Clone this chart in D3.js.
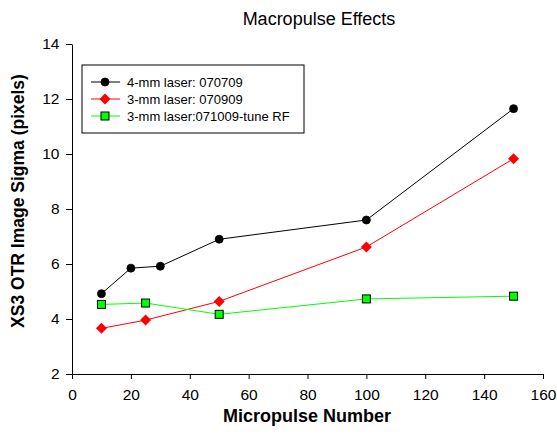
<!DOCTYPE html>
<html>
<head>
<meta charset="utf-8">
<script src="https://cdn.jsdelivr.net/npm/d3@7"></script>
<style>
  html, body { margin: 0; padding: 0; background: #fff; }
  text { font-family: "Liberation Sans", Arial, sans-serif; }
</style>
</head>
<body>
<svg id="chart" width="557" height="435"></svg>
<script>
// data
const black4mmX = [10, 20, 30, 50, 100, 150];
const black4mmY = [4.92, 5.85, 5.92, 6.9, 7.6, 11.65];
const red3mmX = [10, 25, 50, 100, 150];
const red3mmY = [3.66, 3.96, 4.64, 6.62, 9.83];
const green3mmX = [10, 25, 50, 100, 150];
const green3mmY = [4.53, 4.58, 4.17, 4.73, 4.83];
const xTicks = [0, 20, 40, 60, 80, 100, 120, 140, 160];
const yTicks = [2, 4, 6, 8, 10, 12, 14];

const series = [
  { name: "4-mm laser: 070709", xs: black4mmX, ys: black4mmY, line: "#000", marker: "circle", fill: "#000" },
  { name: "3-mm laser: 070909", xs: red3mmX, ys: red3mmY, line: "#ff0000", marker: "diamond", fill: "#ff0000" },
  { name: "3-mm laser:071009-tune RF", xs: green3mmX, ys: green3mmY, line: "#00ff00", marker: "square", fill: "#00ff00" },
];

const svg = d3.select("#chart");
const margin = { left: 72, right: 14, top: 44, bottom: 61 };
const W = 557, H = 435;

const x = d3.scaleLinear().domain([0, 160]).range([margin.left, W - margin.right]);
const y = d3.scaleLinear().domain([2, 14]).range([H - margin.bottom, margin.top]);

// axes
const xAxis = svg.append("g")
  .attr("transform", `translate(0,${y(2)})`)
  .call(d3.axisBottom(x).tickValues(xTicks).tickSize(5).tickSizeOuter(0).tickPadding(9.5));
const yAxis = svg.append("g")
  .attr("transform", `translate(${x(0)},0)`)
  .call(d3.axisLeft(y).tickValues(yTicks).tickSize(6).tickSizeOuter(0).tickPadding(6.5));
[xAxis, yAxis].forEach((a) => {
  a.selectAll("text").attr("font-size", 15.5).attr("fill", "#000")
    .attr("font-family", "Liberation Sans, Arial, sans-serif");
  a.selectAll("line, path").attr("stroke", "#000");
});

// titles
svg.append("text").attr("x", 319).attr("y", 25).attr("text-anchor", "middle")
  .attr("font-size", 18).text("Macropulse Effects");
svg.append("text").attr("x", 307).attr("y", 422).attr("text-anchor", "middle")
  .attr("font-size", 18).attr("font-weight", "bold").text("Micropulse Number");
svg.append("text").attr("transform", "translate(24,201) rotate(-90)")
  .attr("text-anchor", "middle").attr("font-size", 17.5).attr("font-weight", "bold")
  .text("XS3 OTR Image Sigma (pixels)");

function drawMarker(g, type, fill) {
  if (type === "circle") {
    g.append("circle").attr("r", 4).attr("fill", fill).attr("stroke", "#000").attr("stroke-width", 0.8);
  } else if (type === "diamond") {
    g.append("path").attr("d", "M0,-5.5L5.5,0L0,5.5L-5.5,0Z").attr("fill", fill);
  } else {
    g.append("rect").attr("x", -4).attr("y", -4).attr("width", 8).attr("height", 8)
      .attr("fill", fill).attr("stroke", "#000").attr("stroke-width", 1);
  }
}

const line = d3.line().x((d) => x(d[0])).y((d) => y(d[1]));

series.forEach((s) => {
  const pts = s.xs.map((v, i) => [v, s.ys[i]]);
  svg.append("path").datum(pts).attr("d", line)
    .attr("fill", "none").attr("stroke", s.line).attr("stroke-width", 1);
  pts.forEach((p) => {
    const g = svg.append("g").attr("transform", `translate(${x(p[0])},${y(p[1])})`);
    drawMarker(g, s.marker, s.fill);
  });
});

// legend
const leg = svg.append("g");
leg.append("rect").attr("x", 82).attr("y", 65).attr("width", 222).attr("height", 68)
  .attr("fill", "#fff").attr("stroke", "#000").attr("stroke-width", 1);
series.forEach((s, i) => {
  const ly = 82 + i * 17;
  leg.append("line").attr("x1", 91).attr("x2", 120).attr("y1", ly).attr("y2", ly)
    .attr("stroke", s.line).attr("stroke-width", 1);
  const g = leg.append("g").attr("transform", `translate(105,${ly})`);
  drawMarker(g, s.marker, s.fill);
  leg.append("text").attr("x", 127).attr("y", ly + 5).attr("font-size", 13).text(s.name);
});
</script>
</body>
</html>
